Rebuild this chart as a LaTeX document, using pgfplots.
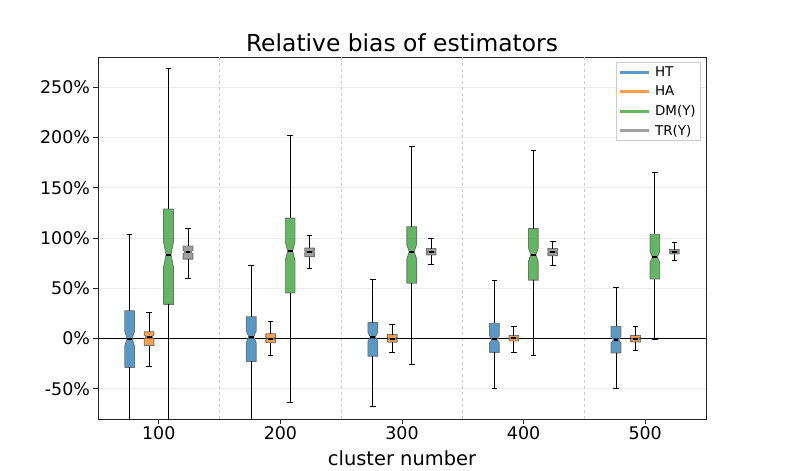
\documentclass[border=0pt]{standalone}
\usepackage{fontspec}
\setmainfont{DejaVu Sans}
\usepackage{pgfplots}
\pgfplotsset{compat=1.18}

\definecolor{tabblue}{RGB}{31,119,180}
\definecolor{taborange}{RGB}{255,127,14}
\definecolor{tabgreen}{RGB}{44,160,44}
\definecolor{tabgray}{RGB}{127,127,127}

\pgfplotsset{
  nb/.style={forget plot, fill=#1, fill opacity=0.75, draw=black!55, line width=0.9bp},
}

\begin{document}
\begin{tikzpicture}
\begin{axis}[
  scale only axis, width=608bp, height=362bp,
  xmin=0.5, xmax=5.5, ymin=-80, ymax=280,
  xtick={1,2,3,4,5}, xticklabels={100,200,300,400,500},
  ytick={-50,0,50,100,150,200,250},
  yticklabels={-50\%,0\%,50\%,100\%,150\%,200\%,250\%},
  extra x ticks={1.5,2.5,3.5,4.5},
  extra x tick labels={},
  extra x tick style={grid=major, major tick length=0pt, major grid style={dashed, black!20, line width=0.8bp}},
  ymajorgrids=true,
  y grid style={black!8, line width=0.8bp},
  tick pos=left, tick align=outside,
  major tick length=4.5bp,
  tick style={black!85, line width=0.8bp},
  axis line style={black!85, line width=0.8bp},
  ticklabel style={font=\fontsize{17.5}{20}\selectfont},
  title={Relative bias of estimators},
  title style={font=\fontsize{23.5}{27}\selectfont, yshift=-4.5bp},
  xlabel={cluster number},
  xlabel style={font=\fontsize{19.5}{22}\selectfont, yshift=1bp},
  legend style={at={(0.99,0.985)}, anchor=north east,
    draw=black!20, font=\fontsize{13.5}{16}\selectfont,
    fill=white, inner xsep=2bp, inner ysep=2bp, row sep=4bp},
  legend cell align=left,
  legend image code/.code={\draw[#1, line width=3bp] (0bp,0bp) -- (29bp,0bp); \path (33bp,0bp);},
  unbounded coords=jump,
]
\addlegendimage{tabblue!75!white}
\addlegendentry{HT}
\addlegendimage{taborange!75!white}
\addlegendentry{HA}
\addlegendimage{tabgreen!75!white}
\addlegendentry{DM(Y)}
\addlegendimage{tabgray!75!white}
\addlegendentry{TR(Y)}

\addplot[black, line width=0.9bp, forget plot] coordinates {(0.5,0) (5.5,0)};

% ---------- notched boxes: outline through q1, notch lo, median, notch hi, q3
% group 100
\addplot[nb=tabblue]   coordinates {(0.72,-28.7) (0.80,-28.7) (0.80,-7.3) (0.78,0) (0.80,7.3) (0.80,27.7) (0.72,27.7) (0.72,7.3) (0.74,0) (0.72,-7.3) (0.72,-28.7)};
\addplot[nb=taborange] coordinates {(0.88,-7) (0.96,-7) (0.96,0) (0.94,1.8) (0.96,3.6) (0.96,6.8) (0.88,6.8) (0.88,3.6) (0.90,1.8) (0.88,0) (0.88,-7)};
\addplot[nb=tabgreen]  coordinates {(1.04,34) (1.12,34) (1.12,71.2) (1.10,83.5) (1.12,95.8) (1.12,128.8) (1.04,128.8) (1.04,95.8) (1.06,83.5) (1.04,71.2) (1.04,34)};
\addplot[nb=tabgray]   coordinates {(1.20,79) (1.28,79) (1.28,84.3) (1.26,86) (1.28,87.7) (1.28,92) (1.20,92) (1.20,87.7) (1.22,86) (1.20,84.3) (1.20,79)};
% group 200
\addplot[nb=tabblue]   coordinates {(1.72,-22.7) (1.80,-22.7) (1.80,-4) (1.78,1.8) (1.80,7.6) (1.80,21.7) (1.72,21.7) (1.72,7.6) (1.74,1.8) (1.72,-4) (1.72,-22.7)};
\addplot[nb=taborange] coordinates {(1.88,-4.2) (1.96,-4.2) (1.96,-1.2) (1.94,0) (1.96,1.2) (1.96,4.8) (1.88,4.8) (1.88,1.2) (1.90,0) (1.88,-1.2) (1.88,-4.2)};
\addplot[nb=tabgreen]  coordinates {(2.04,45.4) (2.12,45.4) (2.12,77.3) (2.10,87) (2.12,96.7) (2.12,119.8) (2.04,119.8) (2.04,96.7) (2.06,87) (2.04,77.3) (2.04,45.4)};
\addplot[nb=tabgray]   coordinates {(2.20,81.5) (2.28,81.5) (2.28,85.4) (2.26,86.5) (2.28,87.6) (2.28,90) (2.20,90) (2.20,87.6) (2.22,86.5) (2.20,85.4) (2.20,81.5)};
% group 300
\addplot[nb=tabblue]   coordinates {(2.72,-17.6) (2.80,-17.6) (2.80,-2.7) (2.78,1.7) (2.80,6.1) (2.80,15.9) (2.72,15.9) (2.72,6.1) (2.74,1.7) (2.72,-2.7) (2.72,-17.6)};
\addplot[nb=taborange] coordinates {(2.88,-3.6) (2.96,-3.6) (2.96,-1) (2.94,0) (2.96,1) (2.96,3.9) (2.88,3.9) (2.88,1) (2.90,0) (2.88,-1) (2.88,-3.6)};
\addplot[nb=tabgreen]  coordinates {(3.04,55) (3.12,55) (3.12,79) (3.10,86.3) (3.12,93.6) (3.12,111) (3.04,111) (3.04,93.6) (3.06,86.3) (3.04,79) (3.04,55)};
\addplot[nb=tabgray]   coordinates {(3.20,83.2) (3.28,83.2) (3.28,85.4) (3.26,86.2) (3.28,87) (3.28,89.5) (3.20,89.5) (3.20,87) (3.22,86.2) (3.20,85.4) (3.20,83.2)};
% group 400
\addplot[nb=tabblue]   coordinates {(3.72,-13.7) (3.80,-13.7) (3.80,-4.6) (3.78,-0.8) (3.80,3) (3.80,15.2) (3.72,15.2) (3.72,3) (3.74,-0.8) (3.72,-4.6) (3.72,-13.7)};
\addplot[nb=taborange] coordinates {(3.88,-2.4) (3.96,-2.4) (3.96,-0.4) (3.94,0.3) (3.96,1) (3.96,3) (3.88,3) (3.88,1) (3.90,0.3) (3.88,-0.4) (3.88,-2.4)};
\addplot[nb=tabgreen]  coordinates {(4.04,58.1) (4.12,58.1) (4.12,76.7) (4.10,83.4) (4.12,90.1) (4.12,109.3) (4.04,109.3) (4.04,90.1) (4.06,83.4) (4.04,76.7) (4.04,58.1)};
\addplot[nb=tabgray]   coordinates {(4.20,82.5) (4.28,82.5) (4.28,85.3) (4.26,86.2) (4.28,87.1) (4.28,89.5) (4.20,89.5) (4.20,87.1) (4.22,86.2) (4.20,85.3) (4.20,82.5)};
% group 500
\addplot[nb=tabblue]   coordinates {(4.72,-14.3) (4.80,-14.3) (4.80,-4.7) (4.78,-1.3) (4.80,2.1) (4.80,12) (4.72,12) (4.72,2.1) (4.74,-1.3) (4.72,-4.7) (4.72,-14.3)};
\addplot[nb=taborange] coordinates {(4.88,-3.3) (4.96,-3.3) (4.96,-0.8) (4.94,0) (4.96,0.8) (4.96,3) (4.88,3) (4.88,0.8) (4.90,0) (4.88,-0.8) (4.88,-3.3)};
\addplot[nb=tabgreen]  coordinates {(5.04,59.2) (5.12,59.2) (5.12,75.3) (5.10,81.1) (5.12,86.9) (5.12,103.7) (5.04,103.7) (5.04,86.9) (5.06,81.1) (5.04,75.3) (5.04,59.2)};
\addplot[nb=tabgray]   coordinates {(5.20,84.2) (5.28,84.2) (5.28,85.9) (5.26,86.5) (5.28,87.1) (5.28,88.5) (5.20,88.5) (5.20,87.1) (5.22,86.5) (5.20,85.9) (5.20,84.2)};

% ---------- whiskers: (q3 -> upper whisker) and (q1 -> lower whisker)
\addplot[black, line width=0.9bp, forget plot] coordinates {
 (0.76,27.7) (0.76,104) (0.76,nan) (0.76,-28.7) (0.76,-90) (0.76,nan)
 (0.92,6.8) (0.92,26) (0.92,nan) (0.92,-7) (0.92,-28) (0.92,nan)
 (1.08,128.8) (1.08,268.7) (1.08,nan) (1.08,34) (1.08,-90) (1.08,nan)
 (1.24,92) (1.24,109) (1.24,nan) (1.24,79) (1.24,60) (1.24,nan)
 (1.76,21.7) (1.76,73) (1.76,nan) (1.76,-22.7) (1.76,-90) (1.76,nan)
 (1.92,4.8) (1.92,17.4) (1.92,nan) (1.92,-4.2) (1.92,-17) (1.92,nan)
 (2.08,119.8) (2.08,202) (2.08,nan) (2.08,45.4) (2.08,-63.3) (2.08,nan)
 (2.24,90) (2.24,102.5) (2.24,nan) (2.24,81.5) (2.24,69.6) (2.24,nan)
 (2.76,15.9) (2.76,58.4) (2.76,nan) (2.76,-17.6) (2.76,-67.8) (2.76,nan)
 (2.92,3.9) (2.92,13.9) (2.92,nan) (2.92,-3.6) (2.92,-14) (2.92,nan)
 (3.08,111) (3.08,191) (3.08,nan) (3.08,55) (3.08,-25.6) (3.08,nan)
 (3.24,89.5) (3.24,99.5) (3.24,nan) (3.24,83.2) (3.24,73.3) (3.24,nan)
 (3.76,15.2) (3.76,57.4) (3.76,nan) (3.76,-13.7) (3.76,-49.6) (3.76,nan)
 (3.92,3) (3.92,12.3) (3.92,nan) (3.92,-2.4) (3.92,-13.4) (3.92,nan)
 (4.08,109.3) (4.08,187) (4.08,nan) (4.08,58.1) (4.08,-17) (4.08,nan)
 (4.24,89.5) (4.24,96.8) (4.24,nan) (4.24,82.5) (4.24,72.5) (4.24,nan)
 (4.76,12) (4.76,51) (4.76,nan) (4.76,-14.3) (4.76,-49.5) (4.76,nan)
 (4.92,3) (4.92,11.7) (4.92,nan) (4.92,-3.3) (4.92,-11.6) (4.92,nan)
 (5.08,103.7) (5.08,165.5) (5.08,nan) (5.08,59.2) (5.08,-1.3) (5.08,nan)
 (5.24,88.5) (5.24,95.2) (5.24,nan) (5.24,84.2) (5.24,77.2)
};
% ---------- whisker caps
\addplot[black, only marks, mark=-, mark size=2.8bp, mark options={line width=0.9bp}, forget plot] coordinates {
 (0.76,104) (0.92,26) (0.92,-28) (1.08,268.7) (1.24,109) (1.24,60)
 (1.76,73) (1.92,17.4) (1.92,-17) (2.08,202) (2.08,-63.3) (2.24,102.5) (2.24,69.6)
 (2.76,58.4) (2.76,-67.8) (2.92,13.9) (2.92,-14) (3.08,191) (3.08,-25.6) (3.24,99.5) (3.24,73.3)
 (3.76,57.4) (3.76,-49.6) (3.92,12.3) (3.92,-13.4) (4.08,187) (4.08,-17) (4.24,96.8) (4.24,72.5)
 (4.76,51) (4.76,-49.5) (4.92,11.7) (4.92,-11.6) (5.08,165.5) (5.08,-1.3) (5.24,95.2) (5.24,77.2)
};
% ---------- medians
\addplot[black, only marks, mark=-, mark size=2.45bp, mark options={line width=2bp}, forget plot] coordinates {
 (0.76,0) (0.92,1.8) (1.08,83.5) (1.24,86)
 (1.76,1.8) (1.92,0) (2.08,87) (2.24,86.5)
 (2.76,1.7) (2.92,0) (3.08,86.3) (3.24,86.2)
 (3.76,-0.8) (3.92,0.3) (4.08,83.4) (4.24,86.2)
 (4.76,-1.3) (4.92,0) (5.08,81.1) (5.24,86.5)
};
\end{axis}
\path ([shift={(-98bp,-52bp)}]current axis.south west) rectangle ([shift={(79bp,57bp)}]current axis.north east);
\end{tikzpicture}
\end{document}
